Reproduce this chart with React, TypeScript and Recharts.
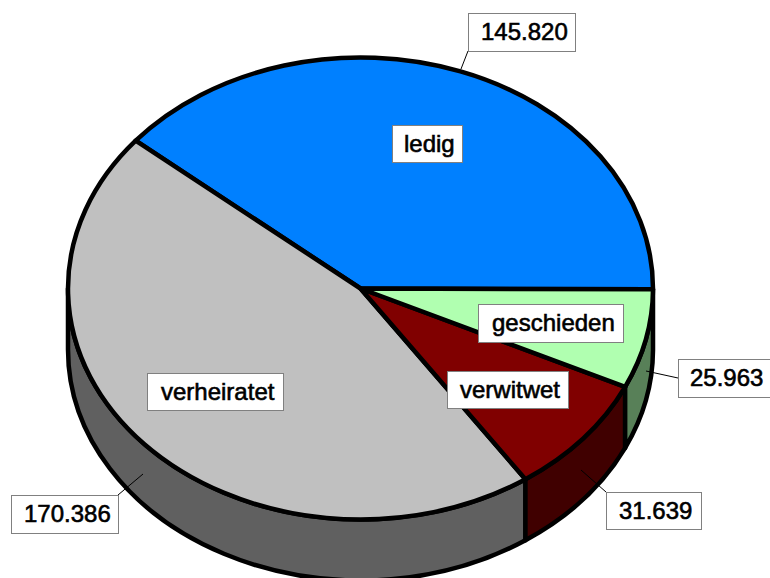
import { PieChart, Pie, Cell } from 'recharts';

const CATEGORIES = ['ledig', 'verheiratet', 'verwitwet', 'geschieden'];
const VALUES = [145820, 170386, 31639, 25963];
const TOP_COLORS = ['#0080ff', '#c0c0c0', '#800000', '#b0ffb0'];
const WALL_COLORS = ['#004080', '#606060', '#400000', '#588058'];

const NAME_BOXES = [
  { x: 392, y: 125, w: 70, h: 37, pad: 12 },
  { x: 147, y: 373, w: 136, h: 37, pad: 14 },
  { x: 447, y: 371, w: 121, h: 37, pad: 13 },
  { x: 478, y: 304, w: 145, h: 38, pad: 14 },
];
const VALUE_BOXES = [
  { x: 468, y: 13, w: 107, h: 38, pad: 13 },
  { x: 11, y: 495, w: 107, h: 38, pad: 13 },
  { x: 606, y: 492, w: 95, h: 37, pad: 13 },
  { x: 678, y: 359, w: 100, h: 38, pad: 12 },
];
const LEADERS = [
  [468, 51, 461, 69],
  [118, 495, 143, 474],
  [606, 492, 581, 470],
  [678, 378, 646, 371],
];

const WIDTH = 770;
const HEIGHT = 578;
const CX = 360.5;
const CY = 288.5;
const RX = 292.5;
const RY = 231;
const DEPTH = 61;
const EDGE = 4.5;
const START_ANGLE = -0.2;

const chartData = CATEGORIES.map((name, i) => ({ name, value: VALUES[i] }));

const pointAt = (angle: number) => {
  const rad = (angle * Math.PI) / 180;
  return { x: CX + RX * Math.cos(rad), y: CY - RY * Math.sin(rad) };
};

const TopSlice = (props: any) => {
  const { startAngle, endAngle, fill } = props;
  const a = pointAt(startAngle);
  const b = pointAt(endAngle);
  const large = endAngle - startAngle > 180 ? 1 : 0;
  const d = `M${CX},${CY} L${a.x},${a.y} A${RX},${RY} 0 ${large} 0 ${b.x},${b.y} Z`;
  return <path d={d} fill={fill} stroke="#000" strokeWidth={EDGE} strokeLinejoin="round" />;
};

// only the front half of the rim can be seen
const WallSlice = (props: any) => {
  const start = Math.max(props.startAngle, 180);
  const end = Math.min(props.endAngle, 360);
  if (end <= start) return <g />;
  const a = pointAt(start);
  const b = pointAt(end);
  const d =
    `M${a.x},${a.y} A${RX},${RY} 0 0 0 ${b.x},${b.y} ` +
    `L${b.x},${b.y + DEPTH} A${RX},${RY} 0 0 1 ${a.x},${a.y + DEPTH} Z`;
  return <path d={d} fill={props.fill} stroke="#000" strokeWidth={EDGE} strokeLinejoin="round" />;
};

const TextBox = ({ box, text }: { box: (typeof NAME_BOXES)[number]; text: string }) => (
  <g>
    <rect x={box.x + 0.5} y={box.y + 0.5} width={box.w} height={box.h} fill="#fff" stroke="#808080" strokeWidth={1} />
    <text
      x={box.x + box.pad}
      y={box.y + 27}
      fontFamily="'Liberation Sans', Arial, sans-serif"
      fontSize={24}
      fill="#000"
      stroke="#000"
      strokeWidth={0.6}
    >
      {text}
    </text>
  </g>
);

const renderLabels = (props: any) => {
  const i = props.index;
  const [x1, y1, x2, y2] = LEADERS[i];
  return (
    <g key={`label-${i}`}>
      <line x1={x1} y1={y1} x2={x2} y2={y2} stroke="#000" strokeWidth={1} />
      <TextBox box={VALUE_BOXES[i]} text={VALUES[i].toLocaleString('de-DE')} />
      <TextBox box={NAME_BOXES[i]} text={CATEGORIES[i]} />
    </g>
  );
};

export default function App() {
  return (
    <div style={{ position: 'absolute', left: 0, top: 0, width: WIDTH, height: HEIGHT, overflow: 'hidden', background: '#fff' }}>
      <PieChart width={WIDTH} height={HEIGHT} margin={{ top: 0, right: 0, bottom: 0, left: 0 }}>
        <Pie
          data={chartData}
          dataKey="value"
          nameKey="name"
          cx={CX}
          cy={CY}
          outerRadius={RX}
          startAngle={START_ANGLE}
          endAngle={START_ANGLE + 360}
          stroke="none"
          shape={WallSlice}
          inactiveShape={WallSlice}
          isAnimationActive={false}
          legendType="none"
        >
          {chartData.map((d, i) => (
            <Cell key={d.name} fill={WALL_COLORS[i]} />
          ))}
        </Pie>
        <Pie
          data={chartData}
          dataKey="value"
          nameKey="name"
          cx={CX}
          cy={CY}
          outerRadius={RX}
          startAngle={START_ANGLE}
          endAngle={START_ANGLE + 360}
          shape={TopSlice}
          inactiveShape={TopSlice}
          label={renderLabels}
          labelLine={false}
          isAnimationActive={false}
          legendType="none"
        >
          {chartData.map((d, i) => (
            <Cell key={d.name} fill={TOP_COLORS[i]} />
          ))}
        </Pie>
      </PieChart>
    </div>
  );
}
